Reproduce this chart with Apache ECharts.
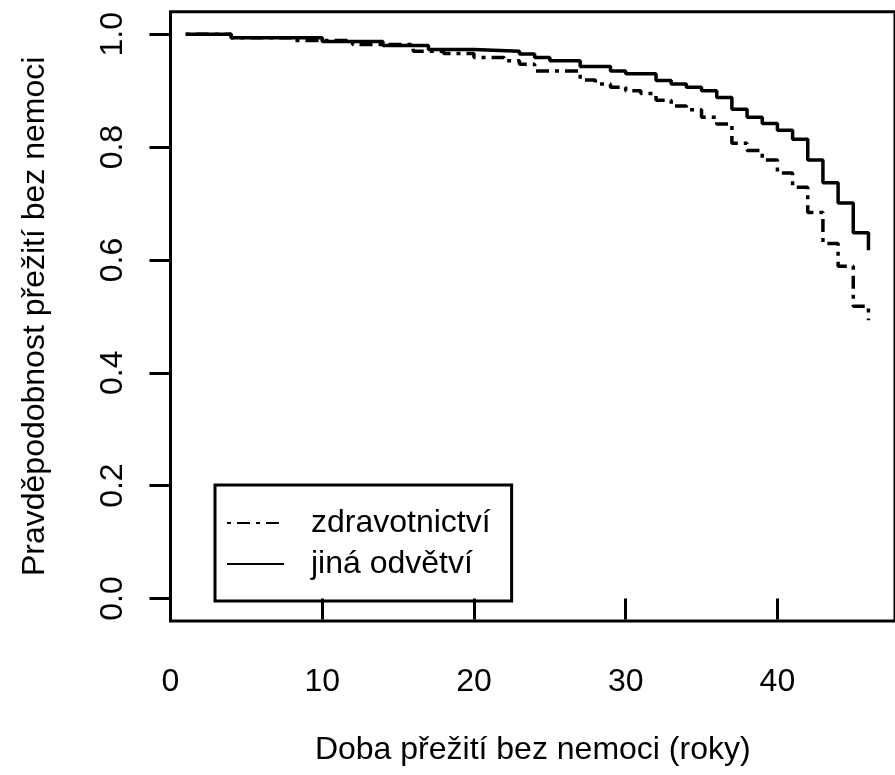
<!DOCTYPE html>
<html>
<head>
<meta charset="utf-8">
<script src="https://cdn.jsdelivr.net/npm/echarts@6/dist/echarts.min.js"></script>
<style>
html,body{margin:0;padding:0;background:#fff;}
#chart{width:895px;height:775px;}
</style>
</head>
<body>
<div id="chart"></div>
<script>
// Kaplan-Meier step data (time in years, survival probability)
const seriesNames = ['zdravotnictví', 'jiná odvětví'];
const timesZdr = [1,4,8,12,16,18,20,22,23,24,27,28,29,30,31,32,33,34,35,36,37,38,39,40,41,42,43,44,45,46];
const survZdr  = [1.0,0.994,0.989,0.982,0.970,0.966,0.959,0.953,0.947,0.935,0.919,0.912,0.906,0.900,0.895,0.883,0.873,0.866,0.853,0.841,0.807,0.794,0.777,0.754,0.729,0.684,0.629,0.589,0.518,0.493];
const timesJina = [1,4,10,14,17,20,23,24,25,27,29,30,32,33,34,35,36,37,38,39,40,41,42,43,44,45,46];
const survJina  = [1.0,0.994,0.987,0.980,0.973,0.970,0.965,0.959,0.953,0.943,0.935,0.930,0.918,0.912,0.906,0.900,0.888,0.867,0.853,0.842,0.830,0.814,0.777,0.737,0.701,0.648,0.617];
const xTicks = [0,10,20,30,40];
const yTicks = [0,0.2,0.4,0.6,0.8,1.0];
const xTitle = 'Doba přežití bez nemoci (roky)';
const yTitle = 'Pravděpodobnost přežití bez nemoci';

const FONT = '"Liberation Sans", Arial, Helvetica, sans-serif';
const pairs = (t, s) => t.map((v, i) => [v, s[i]]);

const chart = echarts.init(document.getElementById('chart'), null, {renderer: 'canvas'});
chart.setOption({
  animation: false,
  backgroundColor: '#fff',
  grid: {
    left: 170.5, top: 11.7, bottom: 154, right: -2.5,
    show: true, borderColor: '#000', borderWidth: 3, backgroundColor: 'transparent'
  },
  legend: {
    orient: 'vertical',
    left: 215, top: 485,
    padding: [20, 21, 19, 11],
    borderColor: '#000', borderWidth: 3,
    itemWidth: 57, itemHeight: 14, itemGap: 5,
    itemStyle: {opacity: 0, color: 'transparent', borderWidth: 0},
    textStyle: {fontFamily: FONT, fontSize: 32, color: '#000', lineHeight: 36, padding: [0, 0, 0, 22]},
    data: seriesNames
  },
  xAxis: {
    type: 'value', min: 0, max: 47.75,
    name: xTitle, nameLocation: 'middle', nameGap: 113,
    nameTextStyle: {fontFamily: FONT, fontSize: 32, color: '#000'},
    axisLine: {show: false},
    splitLine: {show: false},
    axisTick: {show: true, inside: false, length: 21, lineStyle: {color: '#000', width: 3}, customValues: xTicks},
    axisLabel: {show: true, margin: 45, fontFamily: FONT, fontSize: 32, color: '#000', customValues: xTicks,
      formatter: v => String(v)}
  },
  yAxis: {
    type: 'value', min: -0.04, max: 1.04,
    name: yTitle, nameLocation: 'middle', nameGap: 119, nameRotate: 90,
    nameTextStyle: {fontFamily: FONT, fontSize: 32, color: '#000'},
    axisLine: {show: false},
    splitLine: {show: false},
    axisTick: {show: true, inside: false, length: 21, lineStyle: {color: '#000', width: 3}, customValues: yTicks},
    axisLabel: {show: true, rotate: 90, margin: 41, fontFamily: FONT, fontSize: 32, color: '#000', customValues: yTicks,
      formatter: v => v.toFixed(1)}
  },
  series: [
    {
      name: seriesNames[0], type: 'line', step: 'end', symbol: 'none', showSymbol: false,
      data: pairs(timesZdr, survZdr),
      lineStyle: {color: '#000', width: 3.5, type: [4, 6, 13, 6]},
      itemStyle: {color: '#000'}
    },
    {
      name: seriesNames[1], type: 'line', step: 'end', symbol: 'none', showSymbol: false,
      data: pairs(timesJina, survJina),
      lineStyle: {color: '#000', width: 3.5, type: 'solid'},
      itemStyle: {color: '#000'}
    }
  ]
});
</script>
</body>
</html>
